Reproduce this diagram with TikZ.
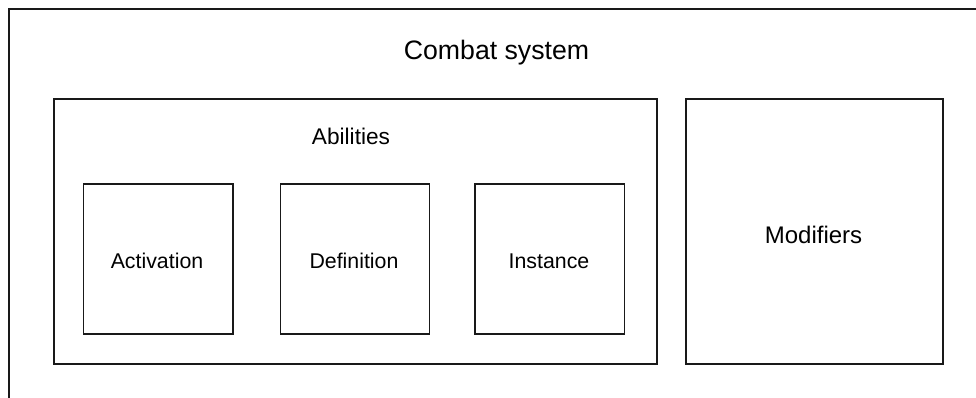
\documentclass[tikz,border=0pt]{standalone}
\usepackage{fontspec}
\setmainfont{Liberation Sans}
\begin{document}
\begin{tikzpicture}[x=0.75pt,y=-0.75pt,
  frame/.style={draw=black!90,line width=1.25pt,rectangle,inner sep=0pt,anchor=north west},
  big/.style={font=\fontsize{20pt}{24pt}\selectfont},
  mid/.style={font=\fontsize{16pt}{19pt}\selectfont},
  lab/.style={inner sep=0pt,anchor=center}]
  \useasboundingbox (0,0) rectangle (976,398);
  \clip (0,0) rectangle (976,398);
  % outer container, running past the right and bottom edges
  \node[frame,minimum width=1100*0.75pt,minimum height=500*0.75pt] (system) at (8,8) {};
  \node[lab,big] (systemtitle) at (496.5,53) {Combat system};
  % abilities group
  \node[frame,minimum width=603*0.75pt,minimum height=265*0.75pt] (abilities) at (53,98) {};
  \node[lab,font=\fontsize{17pt}{20pt}\selectfont] (abilitiestitle) at (351,136) {Abilities};
  \node[frame,minimum width=149.5*0.75pt,minimum height=149.5*0.75pt] (activation) at (82.5,183.5) {};
  \node[lab,mid] (activationtext) at (157,261) {Activation};
  \node[frame,minimum width=149*0.75pt,minimum height=149.5*0.75pt] (definition) at (279.5,183.5) {};
  \node[lab,mid] (definitiontext) at (354,261) {Definition};
  \node[frame,minimum width=149.5*0.75pt,minimum height=149.5*0.75pt] (instance) at (474,183.5) {};
  \node[lab,mid] (instancetext) at (549,261) {Instance};
  % modifiers
  \node[frame,minimum width=257*0.75pt,minimum height=265*0.75pt] (modifiers) at (685,98) {};
  \node[lab,font=\fontsize{18pt}{21pt}\selectfont] (modifierstext) at (813.5,235) {Modifiers};
\end{tikzpicture}
\end{document}
